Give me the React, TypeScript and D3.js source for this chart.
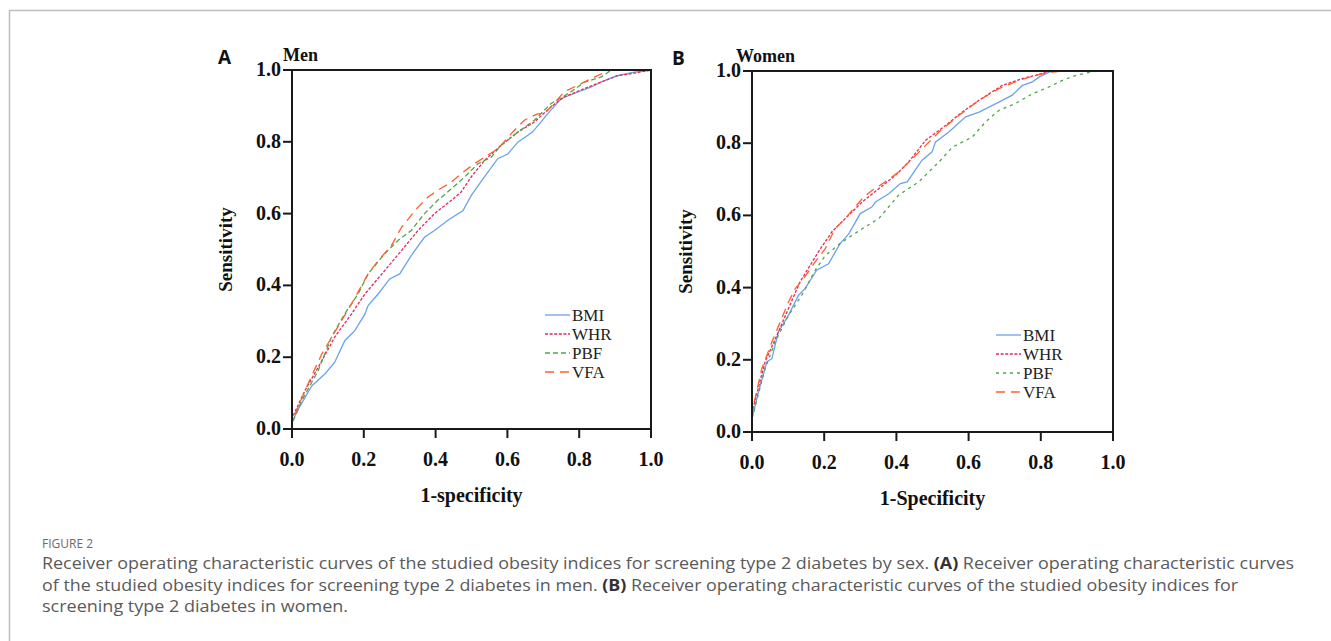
import React from 'react';
import * as d3 from 'd3';

type Pt = [number, number];

// ROC points: [1-specificity, sensitivity]
const menBMI: Pt[] = [[0, 0], [0, 0.02], [0.018, 0.056], [0.055, 0.12], [0.092, 0.154], [0.119, 0.186], [0.147, 0.246], [0.175, 0.274], [0.203, 0.32], [0.212, 0.344], [0.24, 0.376], [0.272, 0.418], [0.3, 0.432], [0.332, 0.483], [0.369, 0.534], [0.397, 0.553], [0.439, 0.585], [0.476, 0.608], [0.499, 0.65], [0.532, 0.697], [0.573, 0.753], [0.601, 0.766], [0.629, 0.799], [0.67, 0.827], [0.712, 0.878], [0.749, 0.92], [0.795, 0.938], [0.832, 0.952], [0.869, 0.97], [0.906, 0.984], [0.953, 0.994], [0.99, 0.998], [1, 1]];
const menWHR: Pt[] = [[0, 0], [0, 0.03], [0.036, 0.107], [0.073, 0.172], [0.119, 0.256], [0.166, 0.321], [0.203, 0.376], [0.258, 0.441], [0.305, 0.497], [0.351, 0.553], [0.397, 0.6], [0.444, 0.637], [0.471, 0.66], [0.499, 0.702], [0.536, 0.748], [0.582, 0.79], [0.629, 0.827], [0.675, 0.855], [0.721, 0.897], [0.758, 0.925], [0.814, 0.948], [0.86, 0.966], [0.906, 0.984], [0.953, 0.991], [1, 1]];
const menPBF: Pt[] = [[0, 0], [0, 0.015], [0.027, 0.079], [0.073, 0.163], [0.11, 0.256], [0.147, 0.321], [0.184, 0.376], [0.212, 0.432], [0.258, 0.488], [0.295, 0.525], [0.332, 0.553], [0.369, 0.6], [0.406, 0.637], [0.444, 0.669], [0.481, 0.702], [0.518, 0.739], [0.555, 0.757], [0.582, 0.79], [0.629, 0.827], [0.675, 0.86], [0.721, 0.906], [0.777, 0.939], [0.814, 0.966], [0.86, 0.98], [0.89, 1], [1, 1]];
const menVFA: Pt[] = [[0, 0], [0, 0.02], [0.036, 0.107], [0.083, 0.209], [0.119, 0.27], [0.166, 0.349], [0.212, 0.432], [0.24, 0.469], [0.277, 0.511], [0.305, 0.562], [0.332, 0.595], [0.351, 0.618], [0.379, 0.646], [0.406, 0.665], [0.444, 0.688], [0.471, 0.711], [0.508, 0.739], [0.536, 0.757], [0.573, 0.78], [0.61, 0.822], [0.647, 0.86], [0.684, 0.878], [0.703, 0.878], [0.721, 0.897], [0.758, 0.939], [0.795, 0.957], [0.842, 0.98], [0.879, 0.997], [0.89, 1], [1, 1]];

const womenBMI: Pt[] = [[0, 0], [0, 0.037], [0.018, 0.111], [0.041, 0.194], [0.055, 0.203], [0.073, 0.277], [0.101, 0.323], [0.129, 0.379], [0.147, 0.397], [0.179, 0.448], [0.212, 0.466], [0.244, 0.522], [0.268, 0.549], [0.3, 0.605], [0.332, 0.623], [0.342, 0.637], [0.379, 0.66], [0.411, 0.688], [0.43, 0.693], [0.471, 0.753], [0.499, 0.776], [0.508, 0.803], [0.545, 0.831], [0.592, 0.873], [0.629, 0.886], [0.684, 0.914], [0.721, 0.933], [0.749, 0.96], [0.777, 0.97], [0.795, 0.983], [0.823, 0.997], [0.832, 1], [1, 1]];
const womenWHR: Pt[] = [[0, 0], [0, 0.055], [0.036, 0.194], [0.073, 0.277], [0.101, 0.342], [0.133, 0.416], [0.184, 0.499], [0.221, 0.554], [0.258, 0.591], [0.305, 0.637], [0.351, 0.674], [0.397, 0.711], [0.434, 0.748], [0.481, 0.808], [0.536, 0.849], [0.582, 0.886], [0.629, 0.919], [0.693, 0.96], [0.749, 0.979], [0.786, 0.988], [0.823, 1], [1, 1]];
const womenPBF: Pt[] = [[0, 0], [0, 0.037], [0.036, 0.175], [0.064, 0.249], [0.101, 0.323], [0.138, 0.379], [0.175, 0.448], [0.203, 0.489], [0.249, 0.526], [0.305, 0.563], [0.351, 0.591], [0.406, 0.656], [0.462, 0.693], [0.518, 0.748], [0.555, 0.789], [0.61, 0.817], [0.647, 0.859], [0.684, 0.891], [0.73, 0.91], [0.777, 0.937], [0.823, 0.956], [0.86, 0.974], [0.897, 0.988], [0.953, 1], [1, 1]];
const womenVFA: Pt[] = [[0, 0], [0, 0.055], [0.027, 0.175], [0.055, 0.249], [0.082, 0.314], [0.101, 0.36], [0.12, 0.397], [0.143, 0.425], [0.175, 0.471], [0.203, 0.508], [0.23, 0.563], [0.258, 0.591], [0.305, 0.646], [0.332, 0.669], [0.369, 0.693], [0.406, 0.72], [0.444, 0.757], [0.481, 0.794], [0.518, 0.831], [0.573, 0.877], [0.629, 0.919], [0.684, 0.951], [0.74, 0.974], [0.786, 0.988], [0.832, 0.997], [0.87, 1], [1, 1]];

const seriesNames = ['BMI', 'WHR', 'PBF', 'VFA'];
const tickValues = [0, 0.2, 0.4, 0.6, 0.8, 1.0];

const colors: Record<string, string> = { BMI: '#6aa3ec', WHR: '#e22a5c', PBF: '#4ea64c', VFA: '#ff5f2a' };

const serif = '"Liberation Serif", "Times New Roman", serif';
const sans = '"Open Sans", "Liberation Sans", Arial, sans-serif';

type PanelProps = {
  left: number; top: number; size: number; letter: string; letterX: number; title: string; titleX: number;
  xLabel: string; data: Pt[][]; dashes: string[]; legendX: number; legendY: number;
};

const Panel = ({ left, top, size, letter, letterX, title, titleX, xLabel, data, dashes, legendX, legendY }: PanelProps) => {
  const x = d3.scaleLinear().domain([0, 1]).range([left, left + size]);
  const y = d3.scaleLinear().domain([0, 1]).range([top + size, top]);
  const line = d3.line<Pt>().x(d => x(d[0])).y(d => y(d[1]));
  const bottom = top + size;
  return (
    <g>
      <text x={letterX} y={top - 6} fontFamily={sans} fontWeight="bold" fontSize={19} fill="#111">{letter}</text>
      <text x={titleX} y={top - 9} fontFamily={serif} fontWeight="bold" fontSize={18} fill="#111">{title}</text>
      {data.map((pts, i) => (
        <path key={i} d={line(pts) || ''} fill="none" stroke={colors[seriesNames[i]]}
          strokeWidth={1.3} strokeDasharray={dashes[i]} />
      ))}
      <rect x={left} y={top} width={size} height={size} fill="none" stroke="#1a1a1a" strokeWidth={2} />
      {tickValues.map(t => (
        <g key={'y' + t}>
          <line x1={left - 9} x2={left} y1={y(t)} y2={y(t)} stroke="#1a1a1a" strokeWidth={2} />
          <text x={left - 11} y={y(t) + 6} textAnchor="end" fontFamily={serif} fontWeight="bold" fontSize={20} fill="#111">{t.toFixed(1)}</text>
        </g>
      ))}
      {tickValues.map(t => (
        <g key={'x' + t}>
          <line x1={x(t)} x2={x(t)} y1={bottom} y2={bottom + 9} stroke="#1a1a1a" strokeWidth={2} />
          <text x={x(t)} y={bottom + 37} textAnchor="middle" fontFamily={serif} fontWeight="bold" fontSize={20} fill="#111">{t.toFixed(1)}</text>
        </g>
      ))}
      <text transform={`translate(${left - 60},${top + size / 2}) rotate(-90)`} textAnchor="middle"
        fontFamily={serif} fontWeight="bold" fontSize={19} fill="#111">Sensitivity</text>
      <text x={left + size / 2} y={bottom + 73} textAnchor="middle" fontFamily={serif} fontWeight="bold" fontSize={20} fill="#111">{xLabel}</text>
      {seriesNames.map((name, i) => (
        <g key={name}>
          <line x1={legendX} x2={legendX + 25} y1={legendY + i * 19} y2={legendY + i * 19}
            stroke={colors[name]} strokeWidth={1.3} strokeDasharray={dashes[i]} />
          <text x={legendX + 27} y={legendY + i * 19 + 6} fontFamily={serif} fontSize={17} fill="#222">{name}</text>
        </g>
      ))}
    </g>
  );
};

const captionLines = [
  ['Receiver operating characteristic curves of the studied obesity indices for screening type 2 diabetes by sex. ', '(A)', ' Receiver operating characteristic curves'],
  ['of the studied obesity indices for screening type 2 diabetes in men. ', '(B)', ' Receiver operating characteristic curves of the studied obesity indices for'],
  ['screening type 2 diabetes in women.'],
];
const captionWidths = [1252, 1196, 306];

const App = () => {
  return (
    <svg width={1331} height={641} style={{ position: 'absolute', left: 0, top: 0, background: '#fff' }}>
      <line x1={9} x2={1331} y1={10.5} y2={10.5} stroke="#bdbdbd" strokeWidth={1.5} />
      <line x1={9.5} x2={9.5} y1={10} y2={641} stroke="#bdbdbd" strokeWidth={1.5} />
      <Panel left={292} top={70} size={359} letter="A" letterX={218} title="Men" titleX={283} xLabel="1-specificity"
        data={[menBMI, menWHR, menPBF, menVFA]} dashes={['none', '3,1.6', '5,3', '9,6']}
        legendX={545} legendY={315} />
      <Panel left={752} top={71} size={361} letter="B" letterX={672} title="Women" titleX={736} xLabel="1-Specificity"
        data={[womenBMI, womenWHR, womenPBF, womenVFA]} dashes={['none', '3,1.6', '3,4', '9,6']}
        legendX={996} legendY={335} />
      <text x={42} y={548} fontFamily={sans} fontSize={12} fill="#6b6b6b">FIGURE 2</text>
      {captionLines.map((parts, i) => (
        <text key={i} x={42} y={569 + i * 21.5} fontFamily={sans} fontSize={16} fill="#5a5a5a"
          textLength={captionWidths[i]} lengthAdjust="spacingAndGlyphs">
          {parts.map((p, j) => (
            <tspan key={j} fontWeight={j === 1 ? 'bold' : 'normal'} fill={j === 1 ? '#333' : '#5a5a5a'}>{p}</tspan>
          ))}
        </text>
      ))}
    </svg>
  );
};

export default App;
